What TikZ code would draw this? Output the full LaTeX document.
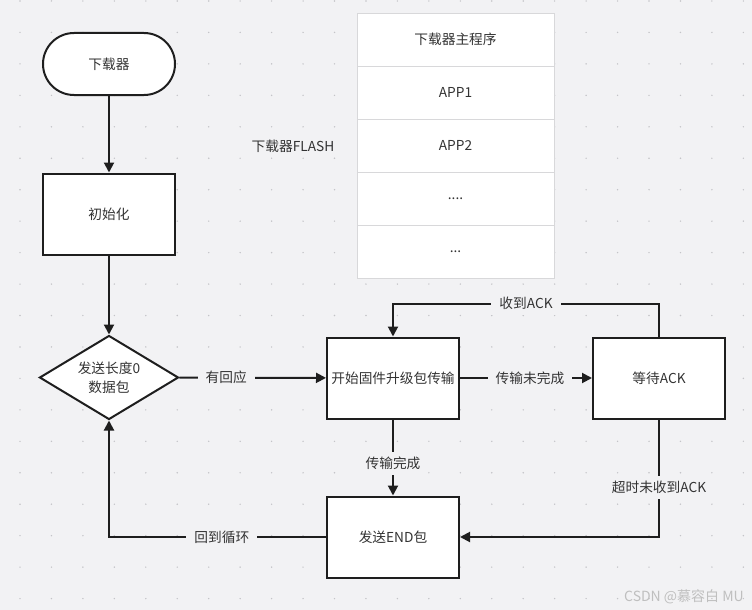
\documentclass[tikz,border=0pt]{standalone}
\usepackage{fontspec}
\setmainfont{Noto Sans CJK SC}
\usepackage{xcolor}
\usetikzlibrary{shapes.geometric,arrows.meta}
\definecolor{canvas}{HTML}{F2F2F4}
\definecolor{griddot}{HTML}{C4C4C8}
\definecolor{ink}{HTML}{333333}
\definecolor{edge}{HTML}{1E1E1E}
\definecolor{cellline}{HTML}{D8D8DA}
\newcommand\fourdots{....}
\newcommand\threedots{...}

\begin{document}
\begin{tikzpicture}[x=1pt,y=-1pt,line width=2pt,draw=edge,
  >={Triangle[length=10pt,width=10pt]},
  every node/.style={text=ink,font=\fontsize{13.7}{19}\selectfont},
  block/.style={draw=edge,fill=white,minimum width=132pt,minimum height=81pt,inner sep=2pt},
  lbl/.style={fill=canvas,inner xsep=8pt,inner ysep=5pt}]
  \fill[canvas] (0,0) rectangle (752,610);
  \useasboundingbox (0,0) rectangle (752,610);
  \foreach \i in {0,...,23} \foreach \j in {0,...,19}
    \fill[griddot] (20+31.45*\i,1+31.45*\j) circle (0.8pt);

  % flash layout
  \foreach \txt [count=\k] in {下载器主程序,APP1,APP2,\fourdots,\threedots}
    \node[draw=cellline,line width=0.8pt,fill=white,minimum width=197pt,minimum height=53pt] (mem\k) at (455.5,-13.5+53*\k) {\txt};
  \node (flashlbl) at (293,146) {下载器FLASH};

  % flow
  \node[draw=edge,fill=white,rounded corners=31pt,minimum width=132pt,minimum height=62pt] (term) at (109,64) {下载器};
  \node[block] (init) at (109,214) {初始化};
  \node[draw=edge,fill=white,diamond,aspect=1.65,inner sep=0pt,minimum width=139pt,minimum height=84pt,align=center] (dec) at (109,377.5) {发送长度0\\数据包};
  \node[block] (start) at (393,378) {开始固件升级包传输};
  \node[block] (wait) at (659,378) {等待ACK};
  \node[block] (end) at (393,537) {发送END包};

  \draw[->] (term) -- (init);
  \draw[->] (init) -- (dec);
  \draw[->] (dec) -- node[lbl,pos=0.32] {有回应} (start);
  \draw[->] (start) -- node[lbl,pos=0.53] {传输未完成} (wait);
  \draw[->] (wait.north) -- ++(0,-33) -| node[lbl,pos=0.25] {收到ACK} (start.north);
  \draw[->] (start) -- node[lbl,pos=0.58] {传输完成} (end);
  \draw[->] (wait) |- node[lbl,pos=0.29] {超时未收到ACK} (end);
  \draw[->] (end) -| node[lbl,pos=0.24] {回到循环} (dec);

  \node[text=gray!50,font=\fontsize{14}{16}\selectfont] (mark) at (684,597) {CSDN @慕容白 MU};
\end{tikzpicture}
\end{document}
